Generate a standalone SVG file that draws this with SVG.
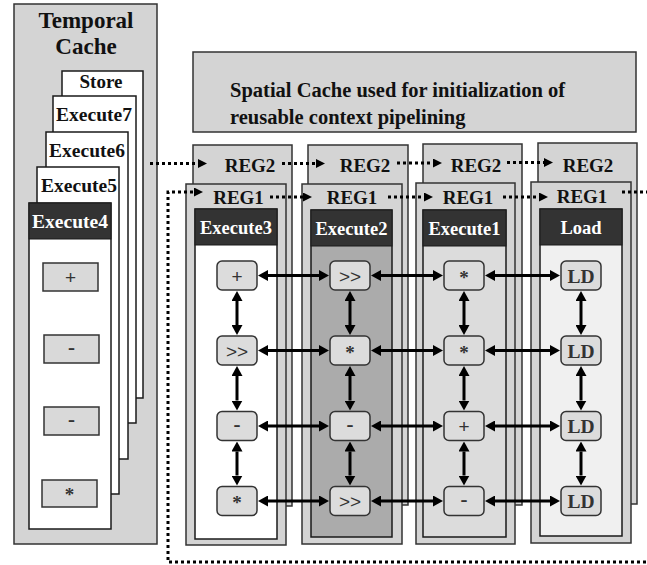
<svg xmlns="http://www.w3.org/2000/svg" width="647" height="565" viewBox="0 0 647 565">
<defs>
<style>
.bg{fill:#d4d4d4;stroke:#333;stroke-width:1.5}
.card{fill:#fff;stroke:#1a1a1a;stroke-width:1.5}
.hdr{fill:#333;stroke:#1a1a1a;stroke-width:1}
.t{font-family:"Liberation Serif","Times New Roman",serif;font-weight:bold;text-anchor:middle;fill:#111}
.s{text-anchor:start}
.w{fill:#fff}
.sq{fill:#d9d9d9;stroke:#333;stroke-width:1.5}
.op{fill:#dcdcdc;stroke:#333;stroke-width:1.5}
.sym{font-family:"Liberation Sans",Arial,sans-serif;font-size:19px;text-anchor:middle;fill:#333}
.ser{font-family:"Liberation Serif","Times New Roman",serif;font-weight:bold;text-anchor:middle;fill:#333}
.dot{stroke:#000;stroke-width:3;stroke-dasharray:3 3;fill:none}
.lnk{stroke:#000;stroke-width:3;fill:none}
</style>
<marker id="da" viewBox="0 -4.5 9 9" refX="0" refY="0" markerWidth="9" markerHeight="9" markerUnits="userSpaceOnUse" orient="auto"><path d="M0,-4.5 L9,0 L0,4.5 z" fill="#000"/></marker>
<marker id="ah" viewBox="0 -5.5 10 11" refX="0" refY="0" markerWidth="10" markerHeight="11" markerUnits="userSpaceOnUse" orient="auto-start-reverse"><path d="M0,-5.5 L10,0 L0,5.5 z" fill="#000"/></marker>
</defs>
<rect width="647" height="565" fill="#fff"/>

<g id="temporal-cache">
<rect class="bg" x="14" y="4" width="143" height="540"/>
<text class="t" x="86" y="28" font-size="23">Temporal</text>
<text class="t" x="86" y="54" font-size="23">Cache</text>
<rect class="card" x="62" y="71" width="81" height="327"/>
<text class="t" x="101" y="88" font-size="19">Store</text>
<rect class="card" x="53" y="96" width="83" height="327"/>
<text class="t" x="94" y="121" font-size="19.5">Execute7</text>
<rect class="card" x="46" y="132" width="82" height="327"/>
<text class="t" x="87" y="157" font-size="19.5">Execute6</text>
<rect class="card" x="37" y="167" width="82" height="327"/>
<text class="t" x="79" y="192" font-size="19.5">Execute5</text>
<rect class="card" x="29" y="203" width="82" height="326"/>
<rect class="hdr" x="29" y="203" width="82" height="36"/>
<text class="t w" x="70" y="228" font-size="19.5">Execute4</text>
<rect class="sq" x="43" y="263" width="55" height="28"/>
<text class="sym" x="70.5" y="284">+</text>
<rect class="sq" x="44" y="335" width="55" height="28"/>
<text class="ser" x="71.5" y="354" font-size="21">-</text>
<rect class="sq" x="44" y="407" width="55" height="28"/>
<text class="ser" x="71.5" y="426" font-size="21">-</text>
<rect class="sq" x="42" y="480" width="55" height="27"/>
<text class="ser" x="69.5" y="501" font-size="19">*</text>
</g>

<g id="spatial-cache">
<rect class="bg" x="193" y="52" width="443" height="80"/>
<text class="t s" x="230" y="97" font-size="20.5">Spatial Cache used for initialization of</text>
<text class="t s" x="230" y="124" font-size="20.5">reusable context pipelining</text>
</g>

<g id="reg2-panels">
<rect class="bg" x="193" y="145" width="99" height="361"/>
<rect class="bg" x="308" y="145" width="100" height="360"/>
<rect class="bg" x="423" y="144" width="99" height="361"/>
<rect class="bg" x="538" y="143" width="99" height="361"/>
<text class="t" x="250" y="172" font-size="19">REG2</text>
<text class="t" x="365" y="172" font-size="19">REG2</text>
<text class="t" x="476" y="172" font-size="19">REG2</text>
<text class="t" x="588" y="172" font-size="19">REG2</text>
</g>

<g id="stage-execute3">
<rect class="bg" x="186" y="184" width="100" height="361"/>
<text class="t" x="238.5" y="204" font-size="19">REG1</text>
<rect class="card" x="195" y="209" width="82" height="330"/>
<rect class="hdr" x="195" y="209" width="82" height="36"/>
<text class="t w" x="236" y="234" font-size="18.5">Execute3</text>
</g>
<g id="stage-execute2">
<rect class="bg" x="302" y="184" width="100" height="360"/>
<text class="t" x="352" y="204" font-size="19">REG1</text>
<rect x="311" y="210" width="81" height="327" fill="#ababab" stroke="#1a1a1a" stroke-width="1.5"/>
<rect class="hdr" x="311" y="210" width="81" height="36"/>
<text class="t w" x="351.5" y="235" font-size="18.5">Execute2</text>
</g>
<g id="stage-execute1">
<rect class="bg" x="416" y="183" width="99" height="361"/>
<text class="t" x="468" y="204" font-size="19">REG1</text>
<rect x="423" y="210" width="83" height="327" fill="#dcdcdc" stroke="#1a1a1a" stroke-width="1.5"/>
<rect class="hdr" x="423" y="210" width="83" height="36"/>
<text class="t w" x="464.5" y="235" font-size="18.5">Execute1</text>
</g>
<g id="stage-load">
<rect class="bg" x="531" y="182" width="100" height="361"/>
<text class="t" x="582" y="203" font-size="19">REG1</text>
<rect x="540" y="209" width="82" height="327" fill="#f0f0f0" stroke="#1a1a1a" stroke-width="1.5"/>
<rect class="hdr" x="540" y="209" width="82" height="36"/>
<text class="t w" x="581" y="234" font-size="18.5">Load</text>
</g>

<g id="connectors">
<line class="dot" x1="150" y1="163.5" x2="198" y2="163.5" marker-end="url(#da)"/>
<line class="dot" x1="282" y1="163.5" x2="316" y2="163.5" marker-end="url(#da)"/>
<line class="dot" x1="397" y1="163" x2="433" y2="163" marker-end="url(#da)"/>
<line class="dot" x1="507" y1="162.5" x2="544" y2="162.5" marker-end="url(#da)"/>
<line class="dot" x1="270" y1="197" x2="303" y2="197" marker-end="url(#da)"/>
<line class="dot" x1="388" y1="197" x2="424" y2="197" marker-end="url(#da)"/>
<line class="dot" x1="503" y1="197" x2="539" y2="197" marker-end="url(#da)"/>
<path class="dot" d="M622,192 H665 V562 H168 V192 H194" marker-end="url(#da)"/>

<line class="lnk" x1="268" y1="275.5" x2="319" y2="275.5" marker-start="url(#ah)" marker-end="url(#ah)"/>
<line class="lnk" x1="381" y1="275.5" x2="433" y2="275.5" marker-start="url(#ah)" marker-end="url(#ah)"/>
<line class="lnk" x1="495" y1="275.5" x2="550" y2="275.5" marker-start="url(#ah)" marker-end="url(#ah)"/>
<line class="lnk" x1="268" y1="350.5" x2="319" y2="350.5" marker-start="url(#ah)" marker-end="url(#ah)"/>
<line class="lnk" x1="381" y1="350.5" x2="433" y2="350.5" marker-start="url(#ah)" marker-end="url(#ah)"/>
<line class="lnk" x1="495" y1="350.5" x2="550" y2="350.5" marker-start="url(#ah)" marker-end="url(#ah)"/>
<line class="lnk" x1="268" y1="426" x2="319" y2="426" marker-start="url(#ah)" marker-end="url(#ah)"/>
<line class="lnk" x1="381" y1="426" x2="433" y2="426" marker-start="url(#ah)" marker-end="url(#ah)"/>
<line class="lnk" x1="495" y1="426" x2="550" y2="426" marker-start="url(#ah)" marker-end="url(#ah)"/>
<line class="lnk" x1="268" y1="501" x2="319" y2="501" marker-start="url(#ah)" marker-end="url(#ah)"/>
<line class="lnk" x1="381" y1="501" x2="433" y2="501" marker-start="url(#ah)" marker-end="url(#ah)"/>
<line class="lnk" x1="495" y1="501" x2="550" y2="501" marker-start="url(#ah)" marker-end="url(#ah)"/>

<line class="lnk" x1="237" y1="301" x2="237" y2="325" marker-start="url(#ah)" marker-end="url(#ah)"/>
<line class="lnk" x1="237" y1="376" x2="237" y2="400.5" marker-start="url(#ah)" marker-end="url(#ah)"/>
<line class="lnk" x1="237" y1="451.5" x2="237" y2="475.5" marker-start="url(#ah)" marker-end="url(#ah)"/>
<line class="lnk" x1="350" y1="301" x2="350" y2="325" marker-start="url(#ah)" marker-end="url(#ah)"/>
<line class="lnk" x1="350" y1="376" x2="350" y2="400.5" marker-start="url(#ah)" marker-end="url(#ah)"/>
<line class="lnk" x1="350" y1="451.5" x2="350" y2="475.5" marker-start="url(#ah)" marker-end="url(#ah)"/>
<line class="lnk" x1="464" y1="301" x2="464" y2="325" marker-start="url(#ah)" marker-end="url(#ah)"/>
<line class="lnk" x1="464" y1="376" x2="464" y2="400.5" marker-start="url(#ah)" marker-end="url(#ah)"/>
<line class="lnk" x1="464" y1="451.5" x2="464" y2="475.5" marker-start="url(#ah)" marker-end="url(#ah)"/>
<line class="lnk" x1="581" y1="301" x2="581" y2="325" marker-start="url(#ah)" marker-end="url(#ah)"/>
<line class="lnk" x1="581" y1="376" x2="581" y2="400.5" marker-start="url(#ah)" marker-end="url(#ah)"/>
<line class="lnk" x1="581" y1="451.5" x2="581" y2="475.5" marker-start="url(#ah)" marker-end="url(#ah)"/>
</g>

<g id="op-r1c1"><rect class="op" x="217" y="261" width="40" height="29" rx="5"/><text class="sym" x="237" y="282.5">+</text></g>
<g id="op-r1c2"><rect class="op" x="330" y="261" width="40" height="29" rx="5"/><text class="sym" x="350" y="282.5">&gt;&gt;</text></g>
<g id="op-r1c3"><rect class="op" x="444" y="261" width="40" height="29" rx="5"/><text class="ser" x="464" y="284" font-size="19">*</text></g>
<g id="op-r1c4"><rect class="op" x="561" y="261" width="40" height="29" rx="5"/><text class="ser" x="581" y="282.5" font-size="19.5">LD</text></g>

<g id="op-r2c1"><rect class="op" x="217" y="336" width="40" height="29" rx="5"/><text class="sym" x="237" y="357.5">&gt;&gt;</text></g>
<g id="op-r2c2"><rect class="op" x="330" y="336" width="40" height="29" rx="5"/><text class="ser" x="350" y="359" font-size="19">*</text></g>
<g id="op-r2c3"><rect class="op" x="444" y="336" width="40" height="29" rx="5"/><text class="ser" x="464" y="359" font-size="19">*</text></g>
<g id="op-r2c4"><rect class="op" x="561" y="336" width="40" height="29" rx="5"/><text class="ser" x="581" y="357.5" font-size="19.5">LD</text></g>

<g id="op-r3c1"><rect class="op" x="217" y="411.5" width="40" height="29" rx="5"/><text class="ser" x="237" y="431" font-size="21">-</text></g>
<g id="op-r3c2"><rect class="op" x="330" y="411.5" width="40" height="29" rx="5"/><text class="ser" x="350" y="431" font-size="21">-</text></g>
<g id="op-r3c3"><rect class="op" x="444" y="411.5" width="40" height="29" rx="5"/><text class="sym" x="464" y="433">+</text></g>
<g id="op-r3c4"><rect class="op" x="561" y="411.5" width="40" height="29" rx="5"/><text class="ser" x="581" y="433" font-size="19.5">LD</text></g>

<g id="op-r4c1"><rect class="op" x="217" y="486.5" width="40" height="29" rx="5"/><text class="ser" x="237" y="509" font-size="19">*</text></g>
<g id="op-r4c2"><rect class="op" x="330" y="486.5" width="40" height="29" rx="5"/><text class="sym" x="350" y="508">&gt;&gt;</text></g>
<g id="op-r4c3"><rect class="op" x="444" y="486.5" width="40" height="29" rx="5"/><text class="ser" x="464" y="506" font-size="21">-</text></g>
<g id="op-r4c4"><rect class="op" x="561" y="486.5" width="40" height="29" rx="5"/><text class="ser" x="581" y="508" font-size="19.5">LD</text></g>
</svg>
